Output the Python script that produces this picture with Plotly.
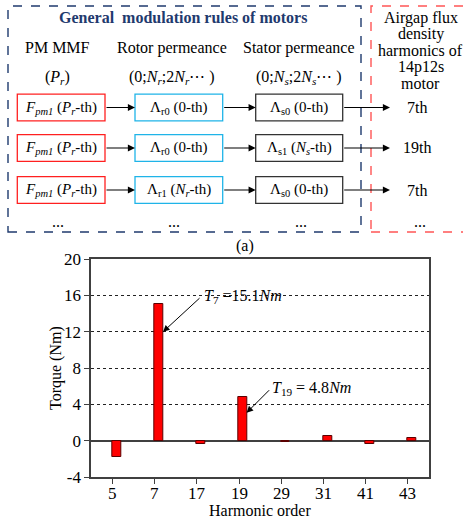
import plotly.graph_objects as go

W, H = 463, 519
FONT = "Liberation Serif"

# Torque contribution of each airgap flux density harmonic
harmonics = ["5", "7", "17", "19", "29", "31", "41", "43"]
torque = [-1.8, 15.1, -0.35, 4.8, -0.15, 0.5, -0.33, 0.33]
y_ticks = [-4, 0, 4, 8, 12, 16, 20]
y_tick_labels = ["-4", "0", "4", "8", "12", "16", "20"]

# Modulation chain rows: PM MMF -> rotor permeance -> stator permeance -> result
mmf_terms = ["<i>F</i><sub><i>pm1</i></sub> (<i>P</i><sub><i>r</i></sub>-th)"] * 3
rotor_terms = ["Λ<sub>r0</sub> (0-th)", "Λ<sub>r0</sub> (0-th)",
               "Λ<sub>r1</sub> (<i>N</i><sub><i>r</i></sub>-th)"]
stator_terms = ["Λ<sub>s0</sub> (0-th)",
                "Λ<sub>s1</sub> (<i>N</i><sub><i>s</i></sub>-th)",
                "Λ<sub>s0</sub> (0-th)"]
result_terms = ["7th", "19th", "7th"]


def px(x):
    return x / W


def py(y):
    return 1 - y / H


# plot area in pixels
X0, X1, Y0, Y1 = 91.3, 429.0, 259.0, 477.3

fig = go.Figure()
fig.add_trace(go.Bar(
    x=harmonics, y=torque,
    width=0.21, offset=-0.01,
    marker=dict(color="#FF0000", line=dict(color="#5a0000", width=1)),
    showlegend=False,
))

shapes = []
annotations = []


def text(x, y, s, size=16, color="black", xanchor="center", bold=False, angle=0):
    if bold:
        s = "<b>" + s + "</b>"
    annotations.append(dict(
        x=px(x), y=py(y), xref="paper", yref="paper", text=s, showarrow=False,
        xanchor=xanchor, yanchor="middle", textangle=angle,
        font=dict(family=FONT, size=size, color=color),
    ))


def rect(x0, y0, x1, y1, color, width=1.3, dash="solid"):
    shapes.append(dict(
        type="rect", xref="paper", yref="paper",
        x0=px(x0), x1=px(x1), y0=py(y1), y1=py(y0),
        line=dict(color=color, width=width, dash=dash),
    ))


def arrow(x_tail, y_tail, x_tip, y_tip):
    annotations.append(dict(
        x=px(x_tip), y=py(y_tip), xref="paper", yref="paper",
        ax=x_tail - x_tip, ay=y_tail - y_tip, axref="pixel", ayref="pixel",
        text="", showarrow=True, arrowhead=2, arrowsize=1.3, arrowwidth=1.1,
        arrowcolor="black", standoff=0, startstandoff=0,
    ))


# Dashed frames
rect(8, 6, 361, 232, "#1F3A6E", width=1.4, dash="dash")
rect(371, 6, 466, 232, "#FF5555", width=1.4, dash="dash")

text(183, 18, "General  modulation rules of motors", size=16, color="#1F3A6E", bold=True)

# Column headers
col_x = [61.2, 178.8, 299.2]
text(58, 48, "PM MMF")
text(171.7, 48, "Rotor permeance")
text(299, 48, "Stator permeance")
text(58, 77, "(<i>P</i><sub><i>r</i></sub>)")
text(171.7, 77, "(0;<i>N</i><sub><i>r</i></sub>;2<i>N</i><sub><i>r</i></sub>⋯ )")
text(299, 77, "(0;<i>N</i><sub><i>s</i></sub>;2<i>N</i><sub><i>s</i></sub>⋯ )")

for i, line in enumerate(["Airgap flux", "density", "harmonics of", "14p12s", "motor"]):
    text(420.8, 18 + i * 16.3, line)

# Rows of boxes and arrows
row_y = [107.5, 148.0, 190.0]
half_h = 13.3
for i, yc in enumerate(row_y):
    rect(17.3, yc - half_h, 105, yc + half_h, "#FF2020")
    rect(135, yc - half_h, 222.7, yc + half_h, "#1FB4E8")
    rect(255.7, yc - half_h, 342.7, yc + half_h, "#333333")
    text(col_x[0], yc, mmf_terms[i], size=15)
    text(col_x[1], yc, rotor_terms[i], size=15)
    text(col_x[2], yc, stator_terms[i], size=15)
    text(417, yc, result_terms[i], size=16)
    arrow(105, yc, 135, yc)
    arrow(222.7, yc, 255.7, yc)
    arrow(342.7, yc, 390, yc)

for x in [58, 174, 301, 420]:
    text(x, 221, "...", size=16)

text(245, 246, "(a)", size=16)

# Chart annotations
annotations.append(dict(
    x=1.2, y=12.0, xref="x", yref="y", ax=38, ay=-35, axref="pixel", ayref="pixel",
    text="", showarrow=True, arrowhead=2, arrowsize=1.3, arrowwidth=1,
    arrowcolor="black", standoff=0,
))
annotations.append(dict(
    x=3.18, y=3.1, xref="x", yref="y", ax=24, ay=-24, axref="pixel", ayref="pixel",
    text="", showarrow=True, arrowhead=2, arrowsize=1.3, arrowwidth=1,
    arrowcolor="black", standoff=0,
))
text(202, 296, "<i>T</i><sub>7</sub> =15.1<i>Nm</i>", size=16, xanchor="left")
text(270, 388, "<i>T</i><sub>19</sub> = 4.8<i>Nm</i>", size=16, xanchor="left")

# Category labels under the x axis (positioned by category index)
for idx, h in enumerate(harmonics):
    annotations.append(dict(
        x=idx, y=py(493), xref="x", yref="paper", text=h, showarrow=False,
        xanchor="center", yanchor="middle",
        font=dict(family=FONT, size=17, color="black"),
    ))

# Axis titles
text(56, 368, "Torque (Nm)", size=16, angle=-90)
text(260, 510, "Harmonic order", size=16)

fig.update_layout(
    width=W, height=H,
    margin=dict(l=0, r=0, t=0, b=0),
    paper_bgcolor="white", plot_bgcolor="white",
    font=dict(family=FONT, size=16, color="black"),
    shapes=shapes, annotations=annotations,
    bargap=0,
    xaxis=dict(
        domain=[X0 / W, X1 / W], type="category", range=[-0.5, 7.5],
        showline=True, mirror=True, linecolor="#404040", linewidth=2,
        ticks="outside", ticklen=5, tickwidth=1.3, tickcolor="#404040",
        showgrid=False, showticklabels=False,
        automargin=False,
    ),
    yaxis=dict(
        domain=[1 - Y1 / H, 1 - Y0 / H], range=[-4, 20],
        tickvals=y_ticks, ticktext=y_tick_labels,
        showline=True, mirror=True, linecolor="#404040", linewidth=2,
        ticks="outside", ticklen=5, tickwidth=1.3, tickcolor="#404040",
        showgrid=True, gridcolor="#222222", griddash="dot", gridwidth=1,
        zeroline=True, zerolinecolor="#404040", zerolinewidth=1.6,
        tickfont=dict(family=FONT, size=17),
        automargin=False,
    ),
)

fig.write_html("out.html")
